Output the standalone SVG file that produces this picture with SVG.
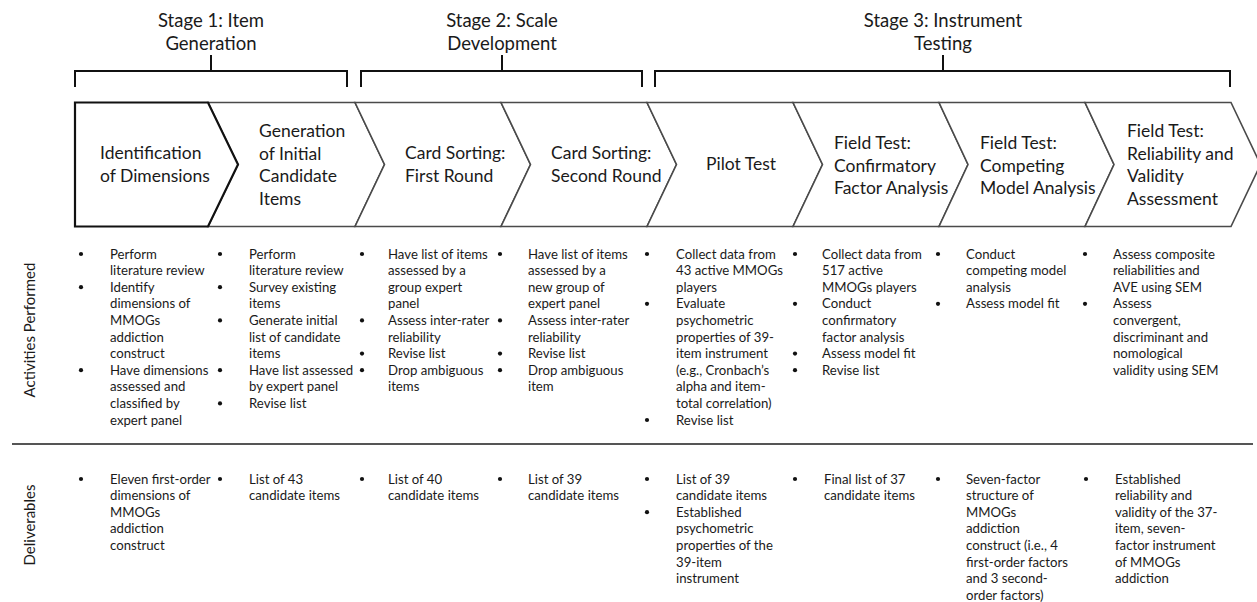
<svg xmlns="http://www.w3.org/2000/svg" width="1257" height="602" viewBox="0 0 1257 602">
<style>
  text { font-family: Lato, "Open Sans", "Liberation Sans", sans-serif; fill: #1a1a1a; }
  .stage { font-size: 18.5px; text-anchor: middle; }
  .lbl { font-size: 17.5px; }
  .b { font-size: 13.2px; }
  .side { font-size: 15px; text-anchor: middle; }
  .chev { fill: #ffffff; stroke: #4a4a4a; stroke-width: 1.6; stroke-linejoin: miter; }
  .chev1 { fill: #ffffff; stroke: #111111; stroke-width: 2.2; }
  .brk { fill: none; stroke: #111111; stroke-width: 2; }
  .sep { stroke: #555555; stroke-width: 2; }
  .dot { fill: #111111; }
</style>
<defs>
  <circle id="bd" r="2.1" class="dot"/>
</defs>
<rect width="1257" height="602" fill="#ffffff"/>

<!-- stage titles -->
<g id="stage1"><text class="stage" x="211" y="27">Stage 1: Item<tspan x="211" y="50">Generation</tspan></text></g>
<g id="stage2"><text class="stage" x="502" y="27">Stage 2: Scale<tspan x="502" y="50">Development</tspan></text></g>
<g id="stage3"><text class="stage" x="943" y="27">Stage 3: Instrument<tspan x="943" y="50">Testing</tspan></text></g>

<!-- brackets -->
<g id="connectors">
  <path class="brk" d="M75,87 V71 H347 V87 M211,71 V55"/>
  <path class="brk" d="M361,87 V71 H642 V87 M502,71 V55"/>
  <path class="brk" d="M655,87 V71 H1230 V87 M943,71 V55"/>
</g>

<!-- chevrons -->
<g id="chev2"><polygon class="chev" points="208,102.5 355,102.5 384.5,164.5 355,226.5 208,226.5 238,164.5"/>
  <text class="lbl" x="259" y="137">Generation<tspan x="259" y="159.5">of Initial</tspan><tspan x="259" y="182">Candidate</tspan><tspan x="259" y="204.5">Items</tspan></text></g>
<g id="chev3"><polygon class="chev" points="355,102.5 501,102.5 530.5,164.5 501,226.5 355,226.5 384.5,164.5"/>
  <text class="lbl" x="405" y="159">Card Sorting:<tspan x="405" y="181.5">First Round</tspan></text></g>
<g id="chev4"><polygon class="chev" points="501,102.5 647,102.5 676.5,164.5 647,226.5 501,226.5 530.5,164.5"/>
  <text class="lbl" x="551" y="159">Card Sorting:<tspan x="551" y="181.5">Second Round</tspan></text></g>
<g id="chev5"><polygon class="chev" points="647,102.5 793,102.5 822.5,164.5 793,226.5 647,226.5 676.5,164.5"/>
  <text class="lbl" x="706" y="170">Pilot Test</text></g>
<g id="chev6"><polygon class="chev" points="793,102.5 939,102.5 968,164.5 939,226.5 793,226.5 822.5,164.5"/>
  <text class="lbl" x="834" y="149">Field Test:<tspan x="834" y="171.5">Confirmatory</tspan><tspan x="834" y="194">Factor Analysis</tspan></text></g>
<g id="chev7"><polygon class="chev" points="939,102.5 1085,102.5 1114,164.5 1085,226.5 939,226.5 968,164.5"/>
  <text class="lbl" x="980" y="149">Field Test:<tspan x="980" y="171.5">Competing</tspan><tspan x="980" y="194">Model Analysis</tspan></text></g>
<g id="chev8"><polygon class="chev" points="1085,102.5 1231,102.5 1260.5,164.5 1231,226.5 1085,226.5 1114,164.5"/>
  <text class="lbl" x="1127" y="137">Field Test:<tspan x="1127" y="159.5">Reliability and</tspan><tspan x="1127" y="182">Validity</tspan><tspan x="1127" y="204.5">Assessment</tspan></text></g>
<g id="chev1"><polygon class="chev1" points="75,102.5 208,102.5 238,164.5 208,226.5 75,226.5"/>
  <text class="lbl" x="100" y="159">Identification<tspan x="100" y="181.5">of Dimensions</tspan></text></g>

<!-- row labels -->
<g id="row-activities"><text class="side" transform="translate(35,330) rotate(-90)">Activities Performed</text></g>
<g id="row-deliverables"><text class="side" transform="translate(35,525) rotate(-90)">Deliverables</text></g>
<line class="sep" x1="12" y1="444" x2="1253" y2="444"/>

<!-- activities -->
<g id="act1">
  <use href="#bd" x="81" y="254"/><use href="#bd" x="81" y="287.2"/><use href="#bd" x="81" y="370.2"/>
  <text class="b" x="110" y="258.6">Perform<tspan x="110" dy="16.6">literature review</tspan><tspan x="110" dy="16.6">Identify</tspan><tspan x="110" dy="16.6">dimensions of</tspan><tspan x="110" dy="16.6">MMOGs</tspan><tspan x="110" dy="16.6">addiction</tspan><tspan x="110" dy="16.6">construct</tspan><tspan x="110" dy="16.6">Have dimensions</tspan><tspan x="110" dy="16.6">assessed and</tspan><tspan x="110" dy="16.6">classified by</tspan><tspan x="110" dy="16.6">expert panel</tspan></text>
</g>
<g id="act2">
  <use href="#bd" x="220" y="254"/><use href="#bd" x="220" y="287.2"/><use href="#bd" x="220" y="320.4"/><use href="#bd" x="220" y="370.2"/><use href="#bd" x="220" y="403.4"/>
  <text class="b" x="249" y="258.6">Perform<tspan x="249" dy="16.6">literature review</tspan><tspan x="249" dy="16.6">Survey existing</tspan><tspan x="249" dy="16.6">items</tspan><tspan x="249" dy="16.6">Generate initial</tspan><tspan x="249" dy="16.6">list of candidate</tspan><tspan x="249" dy="16.6">items</tspan><tspan x="249" dy="16.6">Have list assessed</tspan><tspan x="249" dy="16.6">by expert panel</tspan><tspan x="249" dy="16.6">Revise list</tspan></text>
</g>
<g id="act3">
  <use href="#bd" x="362" y="254"/><use href="#bd" x="362" y="320.4"/><use href="#bd" x="362" y="353.6"/><use href="#bd" x="362" y="370.2"/>
  <text class="b" x="388" y="258.6">Have list of items<tspan x="388" dy="16.6">assessed by a</tspan><tspan x="388" dy="16.6">group expert</tspan><tspan x="388" dy="16.6">panel</tspan><tspan x="388" dy="16.6">Assess inter-rater</tspan><tspan x="388" dy="16.6">reliability</tspan><tspan x="388" dy="16.6">Revise list</tspan><tspan x="388" dy="16.6">Drop ambiguous</tspan><tspan x="388" dy="16.6">items</tspan></text>
</g>
<g id="act4">
  <use href="#bd" x="500" y="254"/><use href="#bd" x="500" y="320.4"/><use href="#bd" x="500" y="353.6"/><use href="#bd" x="500" y="370.2"/>
  <text class="b" x="528" y="258.6">Have list of items<tspan x="528" dy="16.6">assessed by a</tspan><tspan x="528" dy="16.6">new group of</tspan><tspan x="528" dy="16.6">expert panel</tspan><tspan x="528" dy="16.6">Assess inter-rater</tspan><tspan x="528" dy="16.6">reliability</tspan><tspan x="528" dy="16.6">Revise list</tspan><tspan x="528" dy="16.6">Drop ambiguous</tspan><tspan x="528" dy="16.6">item</tspan></text>
</g>
<g id="act5">
  <use href="#bd" x="647" y="254"/><use href="#bd" x="647" y="303.8"/><use href="#bd" x="647" y="420"/>
  <text class="b" x="676" y="258.6">Collect data from<tspan x="676" dy="16.6">43 active MMOGs</tspan><tspan x="676" dy="16.6">players</tspan><tspan x="676" dy="16.6">Evaluate</tspan><tspan x="676" dy="16.6">psychometric</tspan><tspan x="676" dy="16.6">properties of 39-</tspan><tspan x="676" dy="16.6">item instrument</tspan><tspan x="676" dy="16.6">(e.g., Cronbach’s</tspan><tspan x="676" dy="16.6">alpha and item-</tspan><tspan x="676" dy="16.6">total correlation)</tspan><tspan x="676" dy="16.6">Revise list</tspan></text>
</g>
<g id="act6">
  <use href="#bd" x="795" y="254"/><use href="#bd" x="795" y="303.8"/><use href="#bd" x="795" y="353.6"/><use href="#bd" x="795" y="370.2"/>
  <text class="b" x="822" y="258.6">Collect data from<tspan x="822" dy="16.6">517 active</tspan><tspan x="822" dy="16.6">MMOGs players</tspan><tspan x="822" dy="16.6">Conduct</tspan><tspan x="822" dy="16.6">confirmatory</tspan><tspan x="822" dy="16.6">factor analysis</tspan><tspan x="822" dy="16.6">Assess model fit</tspan><tspan x="822" dy="16.6">Revise list</tspan></text>
</g>
<g id="act7">
  <use href="#bd" x="938" y="254"/><use href="#bd" x="938" y="303.8"/>
  <text class="b" x="966" y="258.6">Conduct<tspan x="966" dy="16.6">competing model</tspan><tspan x="966" dy="16.6">analysis</tspan><tspan x="966" dy="16.6">Assess model fit</tspan></text>
</g>
<g id="act8">
  <use href="#bd" x="1085" y="254"/><use href="#bd" x="1085" y="303.8"/>
  <text class="b" x="1113" y="258.6">Assess composite<tspan x="1113" dy="16.6">reliabilities and</tspan><tspan x="1113" dy="16.6">AVE using SEM</tspan><tspan x="1113" dy="16.6">Assess</tspan><tspan x="1113" dy="16.6">convergent,</tspan><tspan x="1113" dy="16.6">discriminant and</tspan><tspan x="1113" dy="16.6">nomological</tspan><tspan x="1113" dy="16.6">validity using SEM</tspan></text>
</g>

<!-- deliverables -->
<g id="del1">
  <use href="#bd" x="81" y="479"/>
  <text class="b" x="110" y="483.6">Eleven first-order<tspan x="110" dy="16.6">dimensions of</tspan><tspan x="110" dy="16.6">MMOGs</tspan><tspan x="110" dy="16.6">addiction</tspan><tspan x="110" dy="16.6">construct</tspan></text>
</g>
<g id="del2">
  <use href="#bd" x="220" y="479"/>
  <text class="b" x="249" y="483.6">List of 43<tspan x="249" dy="16.6">candidate items</tspan></text>
</g>
<g id="del3">
  <use href="#bd" x="362" y="479"/>
  <text class="b" x="388" y="483.6">List of 40<tspan x="388" dy="16.6">candidate items</tspan></text>
</g>
<g id="del4">
  <use href="#bd" x="500" y="479"/>
  <text class="b" x="528" y="483.6">List of 39<tspan x="528" dy="16.6">candidate items</tspan></text>
</g>
<g id="del5">
  <use href="#bd" x="647" y="479"/><use href="#bd" x="647" y="512.2"/>
  <text class="b" x="676" y="483.6">List of 39<tspan x="676" dy="16.6">candidate items</tspan><tspan x="676" dy="16.6">Established</tspan><tspan x="676" dy="16.6">psychometric</tspan><tspan x="676" dy="16.6">properties of the</tspan><tspan x="676" dy="16.6">39-item</tspan><tspan x="676" dy="16.6">instrument</tspan></text>
</g>
<g id="del6">
  <use href="#bd" x="795" y="479"/>
  <text class="b" x="824" y="483.6">Final list of 37<tspan x="824" dy="16.6">candidate items</tspan></text>
</g>
<g id="del7">
  <use href="#bd" x="938" y="479"/>
  <text class="b" x="966" y="483.6">Seven-factor<tspan x="966" dy="16.6">structure of</tspan><tspan x="966" dy="16.6">MMOGs</tspan><tspan x="966" dy="16.6">addiction</tspan><tspan x="966" dy="16.6">construct (i.e., 4</tspan><tspan x="966" dy="16.6">first-order factors</tspan><tspan x="966" dy="16.6">and 3 second-</tspan><tspan x="966" dy="16.6">order factors)</tspan></text>
</g>
<g id="del8">
  <use href="#bd" x="1086" y="479"/>
  <text class="b" x="1115" y="483.6">Established<tspan x="1115" dy="16.6">reliability and</tspan><tspan x="1115" dy="16.6">validity of the 37-</tspan><tspan x="1115" dy="16.6">item, seven-</tspan><tspan x="1115" dy="16.6">factor instrument</tspan><tspan x="1115" dy="16.6">of MMOGs</tspan><tspan x="1115" dy="16.6">addiction</tspan></text>
</g>
</svg>
